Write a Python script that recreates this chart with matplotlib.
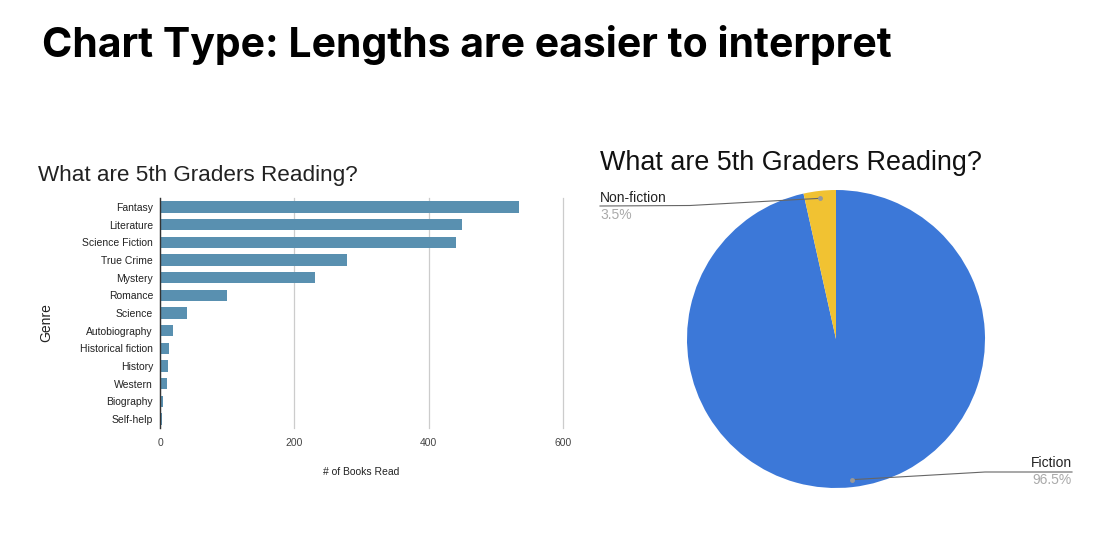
import numpy as np
import matplotlib.pyplot as plt

# bar chart data
genres = ['Fantasy', 'Literature', 'Science Fiction', 'True Crime', 'Mystery', 'Romance',
          'Science', 'Autobiography', 'Historical fiction', 'History', 'Western',
          'Biography', 'Self-help']
booksRead = [534, 450, 440, 278, 231, 100, 40, 19, 14, 12, 11, 4, 2.5]
xTicks = [0, 200, 400, 600]

# pie chart data
pieLabels = ['Fiction', 'Non-fiction']
pieShares = [96.5, 3.5]
pieColors = ['#3c78d8', '#f1c232']

barColor = '#5990b0'
W, H = 1093, 545

fig = plt.figure(figsize=(W / 100, H / 100), dpi=100)
fig.patch.set_facecolor('white')

# heading
fig.text(42 / W, 1 - 45 / H, 'Chart Type: Lengths are easier to interpret',
         fontsize=29.5, fontweight='bold', family='Inter', color='black', va='center', ha='left')

################################################################################
# bar chart
axB = fig.add_axes([160 / W, 1 - 428 / H, (563 - 160) / W, (428 - 198) / H])
yPos = np.arange(len(genres))
axB.barh(yPos, booksRead, height=0.64, color=barColor, zorder=3)
axB.set_ylim(len(genres) - 0.5, -0.5)
axB.set_xlim(0, 600)
axB.set_xticks(xTicks)
axB.set_yticks(yPos)
axB.set_yticklabels(genres, family='Liberation Sans', fontsize=7.5, color='#222222')
for lbl in axB.get_xticklabels():
    lbl.set_family('Liberation Sans')
axB.tick_params(axis='x', labelsize=7.5, labelcolor='#444444', length=0, pad=7)
axB.tick_params(axis='y', length=0, pad=5)
axB.grid(axis='x', color='#cccccc', linewidth=0.9, zorder=0)
for gl in axB.get_xgridlines():
    gl.set_clip_on(False)
for s in ['top', 'right', 'bottom']:
    axB.spines[s].set_visible(False)
axB.spines['left'].set_color('#333333')
axB.spines['left'].set_linewidth(1.0)
axB.spines['left'].set_zorder(6)
axB.set_xlabel('# of Books Read', family='Liberation Sans', fontsize=7.5, color='#222222', labelpad=14)
fig.text(46 / W, 1 - 323 / H, 'Genre', rotation=90, family='Liberation Sans', fontsize=10,
         color='#222222', va='center', ha='center')
fig.text(38 / W, 1 - 175 / H, 'What are 5th Graders Reading?', family='Liberation Sans',
         fontsize=16.2, color='#222222', va='center', ha='left')

################################################################################
# pie chart
cx, cy, r = 836, 339, 149
axP = fig.add_axes([(cx - r) / W, 1 - (cy + r) / H, 2 * r / W, 2 * r / H])
axP.pie(pieShares, colors=pieColors, startangle=90, counterclock=False, radius=1.0,
        wedgeprops=dict(linewidth=0))
axP.set_xlim(-1, 1)
axP.set_ylim(-1, 1)
axP.set_aspect('equal')
axP.axis('off')
fig.text(600 / W, 1 - 163 / H, 'What are 5th Graders Reading?', family='Liberation Sans',
         fontsize=19.4, color='#111111', va='center', ha='left')


def toFig(dx, dy):
    # pie data coords -> figure fraction
    return (cx + dx * r) / W, 1 - (cy - dy * r) / H


# leader lines and labels
start = 90.0
for lab, share in zip(pieLabels, pieShares):
    mid = start - share * 360 / 100 / 2
    start -= share * 360 / 100
    dotX, dotY = toFig(0.95 * np.cos(np.radians(mid)), 0.95 * np.sin(np.radians(mid)))
    if lab == 'Non-fiction':
        lineX = [dotX, 690 / W, 600 / W]
        lineY = [dotY, 1 - 205.5 / H, 1 - 206 / H]
        tx, ha, ty = 600 / W, 'left', 198
    else:
        lineX = [dotX, 985 / W, 1072 / W]
        lineY = [dotY, 1 - 472 / H, 1 - 472 / H]
        tx, ha, ty = 1072 / W, 'right', 463
    fig.add_artist(plt.Line2D(lineX, lineY, color='#666666', linewidth=0.8, transform=fig.transFigure))
    fig.add_artist(plt.Line2D([dotX], [dotY], marker='o', markersize=2.5, color='#999999',
                              transform=fig.transFigure))
    fig.text(tx, 1 - ty / H, lab, family='Liberation Sans', fontsize=10, color='#222222',
             ha=ha, va='center')
    fig.text(tx, 1 - (ty + 17) / H, '%.1f%%' % share, family='Liberation Sans', fontsize=10,
             color='#aaaaaa', ha=ha, va='center')

fig.savefig('out.png', dpi=100)
